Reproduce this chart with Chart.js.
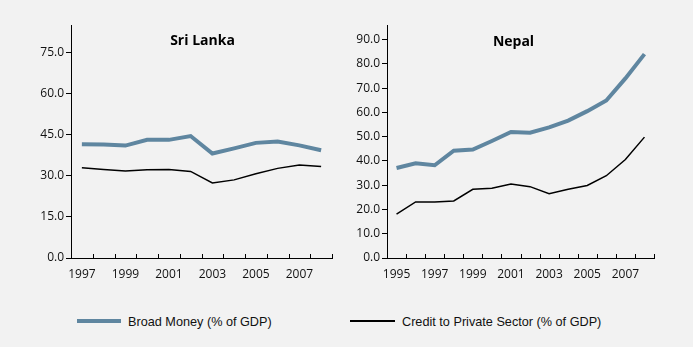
<!DOCTYPE html>
<html>
<head>
<meta charset="utf-8">
<script src="https://cdn.jsdelivr.net/npm/chart.js@4.4.1/dist/chart.umd.min.js"></script>
<style>
  html, body { margin: 0; padding: 0; background: #f2f2f2; }
  #wrap { position: relative; width: 693px; height: 347px; background: #f2f2f2; overflow: hidden; }
  canvas { position: absolute; top: 0; }
  #slChart { left: 0; }
  #npChart { left: 346px; }
  .legend { position: absolute; font-family: "Liberation Sans", Arial, sans-serif; font-size: 13px; color: #111;
            white-space: nowrap; transform: scaleX(0.975); transform-origin: left center; }
  .swatch { position: absolute; }
</style>
</head>
<body>
<div id="wrap">
  <canvas id="slChart" width="346" height="290"></canvas>
  <canvas id="npChart" width="347" height="290"></canvas>
  <div class="swatch" style="left:77px; top:319px; width:44px; height:4px; background:#5f86a0;"></div>
  <div class="legend" style="left:128px; top:314px;">Broad Money (% of GDP)</div>
  <div class="swatch" style="left:350px; top:320px; width:45px; height:2px; background:#000;"></div>
  <div class="legend" style="left:402px; top:314px;">Credit to Private Sector (% of GDP)</div>
</div>
<script>
// Sri Lanka
const slYears = ["1997", "1998", "1999", "2000", "2001", "2002", "2003", "2004", "2005", "2006", "2007", "2008"];
const slBroad = [41.5, 41.4, 41.0, 43.1, 43.1, 44.5, 38.1, 40.0, 42.0, 42.5, 41.1, 39.3];
const slCredit = [32.9, 32.3, 31.7, 32.2, 32.3, 31.6, 27.4, 28.5, 30.7, 32.7, 33.9, 33.4];

// Nepal
const npYears = ["1995", "1996", "1997", "1998", "1999", "2000", "2001", "2002", "2003", "2004", "2005", "2006", "2007", "2008"];
const npBroad = [37.1, 39.0, 38.2, 44.2, 44.7, 48.2, 51.9, 51.6, 53.8, 56.6, 60.5, 64.9, 74.0, 84.0];
const npCredit = [18.1, 23.1, 23.1, 23.5, 28.3, 28.7, 30.5, 29.4, 26.5, 28.3, 29.9, 33.9, 40.6, 49.8];

const BLUE = "#5f86a0";
const FONT = "'Open Sans', 'Noto Sans', sans-serif";

// panel title drawn inside the plot, plus x tick marks pointing up into the plot
const panelExtras = {
  id: "panelExtras",
  afterDraw(chart, args, opts) {
    const ctx = chart.ctx;
    const area = chart.chartArea;
    const xs = chart.scales.x;
    const n = chart.data.labels.length;
    ctx.save();
    ctx.strokeStyle = "#000";
    ctx.lineWidth = 1;
    ctx.beginPath();
    for (let i = 0; i <= n; i++) {
      const x = Math.round(xs.left + (i * xs.width) / n) + 0.5;
      ctx.moveTo(x, area.bottom);
      ctx.lineTo(x, area.bottom - 4);
    }
    ctx.stroke();
    ctx.fillStyle = "#000";
    ctx.font = "bold 14px " + FONT;
    ctx.textAlign = "center";
    ctx.textBaseline = "middle";
    ctx.fillText(opts.text, (area.left + area.right) / 2 + opts.dx, opts.y);
    ctx.restore();
  },
};

function makeChart(id, labels, broad, credit, yMax, yStep, yWidth, padRight, title, titleDx, titleY) {
  return new Chart(document.getElementById(id).getContext("2d"), {
    type: "line",
    data: {
      labels: labels,
      datasets: [
        {
          label: "Broad Money (% of GDP)",
          data: broad,
          borderColor: BLUE,
          borderWidth: 4,
          pointRadius: 0,
          tension: 0,
        },
        {
          label: "Credit to Private Sector (% of GDP)",
          data: credit,
          borderColor: "#000",
          borderWidth: 1.5,
          pointRadius: 0,
          tension: 0,
        },
      ],
    },
    options: {
      responsive: false,
      animation: false,
      layout: { padding: { top: 25, right: padRight, left: 0, bottom: 0 } },
      scales: {
        x: {
          type: "category",
          offset: true,
          grid: { offset: true, drawOnChartArea: false, drawTicks: false },
          border: { color: "#000", width: 1 },
          ticks: {
            autoSkip: false,
            maxRotation: 0,
            padding: 9,
            color: "#111",
            font: { family: FONT, size: 12 },
            callback: function (value, index) {
              return index % 2 === 0 ? labels[index] : "";
            },
          },
          afterFit: function (s) {
            s.height = 32;
          },
        },
        y: {
          min: 0,
          max: yMax,
          grid: { drawOnChartArea: false, tickLength: 5, color: "#000" },
          border: { color: "#000", width: 1 },
          ticks: {
            stepSize: yStep,
            padding: 2,
            color: "#111",
            font: { family: FONT, size: 12 },
            callback: function (value) {
              return value.toFixed(1);
            },
          },
          afterBuildTicks: function (s) {
            s.ticks = s.ticks.filter(function (t) {
              return t.value % yStep === 0;
            });
          },
          afterFit: function (s) {
            s.width = yWidth;
          },
        },
      },
      plugins: {
        legend: { display: false },
        tooltip: { enabled: false },
        panelExtras: { text: title, dx: titleDx, y: titleY },
      },
    },
    plugins: [panelExtras],
  });
}

makeChart("slChart", slYears, slBroad, slCredit, 85, 15, 71, 14, "Sri Lanka", 1, 41);
makeChart("npChart", npYears, npBroad, npCredit, 96, 10, 41, 39, "Nepal", -7, 42);
</script>
</body>
</html>
